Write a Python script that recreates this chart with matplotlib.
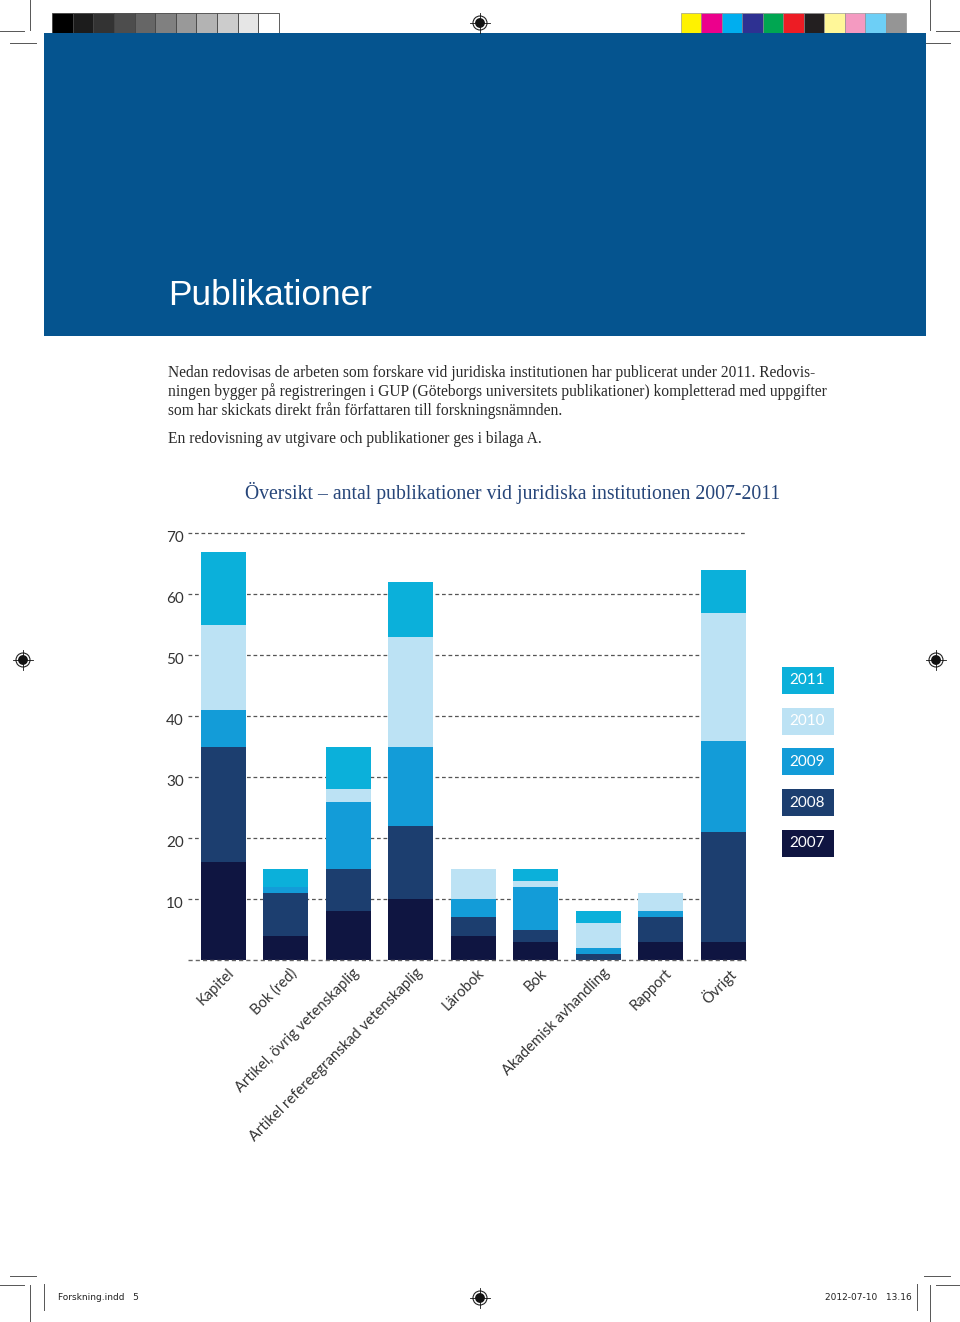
import matplotlib
matplotlib.use('Agg')  # no display
import matplotlib.pyplot as plt
from matplotlib.patches import Rectangle, Circle
from matplotlib.transforms import ScaledTranslation
import numpy as np

# DATA
categories = ['Kapitel', 'Bok (red)', 'Artikel, övrig vetenskaplig',
              'Artikel refereegranskad vetenskaplig', 'Lärobok', 'Bok',
              'Akademisk avhandling', 'Rapport', 'Övrigt']
years = ['2007', '2008', '2009', '2010', '2011']
v2007 = [16, 4, 8, 10, 4, 3, 0, 3, 3]
v2008 = [19, 7, 7, 12, 3, 2, 1, 4, 18]
v2009 = [6, 1, 11, 13, 3, 7, 1, 1, 15]
v2010 = [14, 0, 2, 18, 5, 1, 4, 3, 21]
v2011 = [12, 3, 7, 9, 0, 2, 2, 0, 7]
series = [v2007, v2008, v2009, v2010, v2011]
yticks = [10, 20, 30, 40, 50, 60, 70]

# STYLE
BAR_COLORS = ['#0f1541', '#1c3e6f', '#139cd8', '#bce2f4', '#0bb0da']
HEADER_BLUE = '#05548f'
GRAYS = ['#000000', '#1c1c1c', '#333333', '#4d4d4d', '#666666', '#808080',
         '#999999', '#b3b3b3', '#cccccc', '#e6e6e6', '#ffffff']
PROCESS = ['#fff200', '#ec008c', '#00aeef', '#2e3192', '#00a651', '#ed1c24',
           '#231f20', '#fff799', '#f49ac1', '#6dcff6', '#959595']
W, H = 960, 1322
SANS = 'Lato'
SERIF = 'Liberation Serif'


def reg_mark(ax, x, y):
    ax.add_patch(Circle((x, y), 7, fill=False, ec='#222222', lw=0.8))
    ax.add_patch(Circle((x, y), 4.2, color='#111111'))
    ax.plot([x - 10, x + 10], [y, y], color='#111111', lw=0.6)
    ax.plot([x, x], [y - 10, y + 10], color='#111111', lw=0.6)


def draw_page(pg):
    # printer marks
    sw = (279 - 52) / len(GRAYS)
    for i, c in enumerate(GRAYS):
        pg.add_patch(Rectangle((52 + i * sw, 13), sw, 20, fc=c, ec='#444444', lw=0.6))
    sw = (906 - 681) / len(PROCESS)
    for i, c in enumerate(PROCESS):
        pg.add_patch(Rectangle((681 + i * sw, 13), sw, 20, fc=c, ec='#888888', lw=0.4))
    for x, y in [(480, 23), (23, 660), (936, 660), (480, 1298)]:
        reg_mark(pg, x, y)
    crop = dict(color='#555555', lw=0.7)
    pg.plot([30, 30], [0, 30], **crop)
    pg.plot([0, 24], [31, 31], **crop)
    pg.plot([10, 36], [43, 43], **crop)
    pg.plot([930, 930], [0, 30], **crop)
    pg.plot([936, 960], [31, 31], **crop)
    pg.plot([926, 950], [43, 43], **crop)
    pg.plot([10, 36], [1276, 1276], **crop)
    pg.plot([0, 24], [1285, 1285], **crop)
    pg.plot([30, 30], [1285, 1322], **crop)
    pg.plot([44, 44], [1284, 1310], **crop)
    pg.plot([924, 950], [1276, 1276], **crop)
    pg.plot([936, 960], [1285, 1285], **crop)
    pg.plot([930, 930], [1285, 1322], **crop)
    pg.plot([917, 917], [1284, 1310], **crop)
    pg.text(58, 1298, 'Forskning.indd   5', fontsize=6.5, family='Liberation Sans Narrow',
            va='center', ha='left', color='#222222')
    pg.text(912, 1298, '2012-07-10   13.16', fontsize=6.5, family='Liberation Sans Narrow',
            va='center', ha='right', color='#222222')

    # header
    pg.add_patch(Rectangle((44, 33), 882, 303, fc=HEADER_BLUE, ec='none'))
    pg.text(168, 305, 'Publikationer', fontsize=25.4, family='Liberation Sans',
            color='white', ha='left', va='baseline')

    # body text
    lines = [
        (377, 'Nedan redovisas de arbeten som forskare vid juridiska institutionen har publicerat under 2011. Redovis-'),
        (396, 'ningen bygger på registreringen i GUP (Göteborgs universitets publikationer) kompletterad med uppgifter'),
        (415, 'som har skickats direkt från författaren till forskningsnämnden.'),
        (443, 'En redovisning av utgivare och publikationer ges i bilaga A.'),
    ]
    for y, t in lines:
        pg.text(168, y, t, fontsize=11.2, family=SERIF, color='#2a2a2a',
                ha='left', va='baseline')

    pg.text(513, 499, 'Översikt – antal publikationer vid juridiska institutionen 2007-2011',
            fontsize=14.2, family=SERIF, color='#27467a', ha='center', va='baseline')

    # legend boxes
    for i, (yr, c) in enumerate(zip(years[::-1], BAR_COLORS[::-1])):
        top = 667 + i * 40.7
        pg.add_patch(Rectangle((781.5, top), 52, 27, fc=c, ec='none'))
        pg.text(807.5, top + 13.5, yr, fontsize=11, family=SANS, color='white',
                ha='center', va='center')


def draw_chart(fig):
    left, right, top, bottom = 188, 746, 533.3, 960
    ax = fig.add_axes([left / W, 1 - bottom / H, (right - left) / W, (bottom - top) / H])
    ax.patch.set_alpha(0)
    x = np.arange(len(categories))
    ax.set_xlim(-0.566, 8.36)
    ax.set_ylim(0, 70)

    for v in yticks:
        ax.axhline(v, color='#555555', lw=0.9, ls=(0, (3, 2.2)), zorder=1, clip_on=False)
    # baseline runs under the bars as well
    ax.axhline(0, color='#666666', lw=1.0, ls=(0, (3, 2.2)), zorder=3, clip_on=False)

    bottom_vals = np.zeros(len(categories))
    for vals, c, yr in zip(series, BAR_COLORS, years):
        ax.bar(x, vals, width=0.72, bottom=bottom_vals, color=c, lw=0, zorder=2, label=yr)
        bottom_vals += np.array(vals)

    for s in ax.spines.values():
        s.set_visible(False)
    ax.set_xticks([])
    ax.set_yticks([])

    # y labels, a touch below each gridline
    yoff = ScaledTranslation(-4 / 100, -5 / 100, fig.dpi_scale_trans)
    for v in yticks:
        ax.text(0, v, str(v), transform=ax.get_yaxis_transform() + yoff,
                ha='right', va='center', fontsize=11, family=SANS, color='#333333')

    # rotated category labels
    xoff = ScaledTranslation(4 / 100, -6 / 100, fig.dpi_scale_trans)
    for xi, lab in zip(x, categories):
        ax.text(xi, 0, lab, transform=ax.get_xaxis_transform() + xoff,
                rotation=45, rotation_mode='anchor', ha='right', va='top',
                fontsize=10.6, family=SANS, color='#333333')
    return ax


def main():
    fig = plt.figure(figsize=(W / 100, H / 100), dpi=100)
    fig.patch.set_facecolor('white')
    pg = fig.add_axes([0, 0, 1, 1])
    pg.set_xlim(0, W)
    pg.set_ylim(H, 0)
    pg.axis('off')
    draw_page(pg)
    draw_chart(fig)
    fig.savefig('out.png', dpi=100)
    plt.close(fig)


if __name__ == '__main__':
    main()
